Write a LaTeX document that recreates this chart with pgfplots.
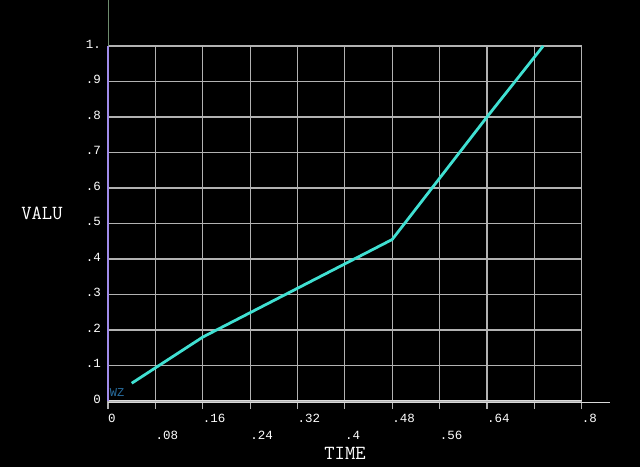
\documentclass[border=0pt]{standalone}
\usepackage{fontspec}
\setmainfont{Liberation Mono}
\usepackage{pgfplots}
\pgfplotsset{compat=1.18}
\definecolor{gridgray}{RGB}{178,178,178}
\definecolor{curve}{RGB}{64,224,210}
\definecolor{leftaxis}{RGB}{160,140,235}
\definecolor{topline}{RGB}{110,140,110}
\definecolor{wzblue}{RGB}{40,110,160}
\begin{document}
\begin{tikzpicture}[x=1pt,y=1pt]
\fill[black] (0,0) rectangle (640,467);
\begin{axis}[
    at={(108pt,66pt)}, anchor=south west,
    scale only axis, width=473.7pt, height=355pt,
    xmin=0, xmax=0.8, ymin=0, ymax=1,
    axis line style={draw=none},
    grid=major,
    grid style={gridgray, line width=1.1pt},
    xtick={0,0.16,0.32,0.48,0.64,0.8},
    xticklabels={0,.16,.32,.48,.64,.8},
    extra x ticks={0.08,0.24,0.4,0.56,0.72},
    extra x tick labels={.08,.24,.4,.56,{}},
    extra x tick style={grid=major, xticklabel style={yshift=-17pt}},
    ytick={0,0.1,0.2,0.3,0.4,0.5,0.6,0.7,0.8,0.9,1},
    yticklabels={0,.1,.2,.3,.4,.5,.6,.7,.8,.9,1.},
    xtick pos=bottom, ytick pos=left,
    tick align=outside,
    major tick length=8pt,
    xtick style={gridgray, line width=1.1pt},
    ytick style={draw=none},
    /pgf/number format/assume math mode=true,
    tick label style={white, font=\fontsize{12.5}{14}\selectfont},
    xticklabel style={anchor=north west, inner sep=0pt, xshift=0pt, yshift=-5pt},
    yticklabel style={anchor=east, inner sep=0pt, xshift=1pt, yshift=2pt},
    clip=false,
]
\addplot[curve, line width=2.8pt] coordinates {
    (0.04,0.05) (0.16,0.18) (0.48,0.455) (0.64,0.80) (0.735,1.0)
};
\end{axis}
\draw[white!85!black, line width=0.7pt] (108,65) -- (610,65);
\draw[white!85!black, line width=0.7pt] (108,67) -- (582,67);
\draw[leftaxis, line width=2.2pt] (108,66) -- (108,421);
\draw[topline, line width=0.8pt] (108,421) -- (108,467);
\node[white, font=\ttfamily\fontsize{20}{22}\selectfont] at (345,14) {TIME};
\node[white, font=\ttfamily\fontsize{20}{22}\selectfont] at (42,254) {VALU};
\node[wzblue, font=\fontsize{12}{14}\selectfont, inner sep=0pt] at (117,74) {WZ};
\pgfresetboundingbox
\path (0,0) rectangle (640,467);
\end{tikzpicture}
\end{document}
